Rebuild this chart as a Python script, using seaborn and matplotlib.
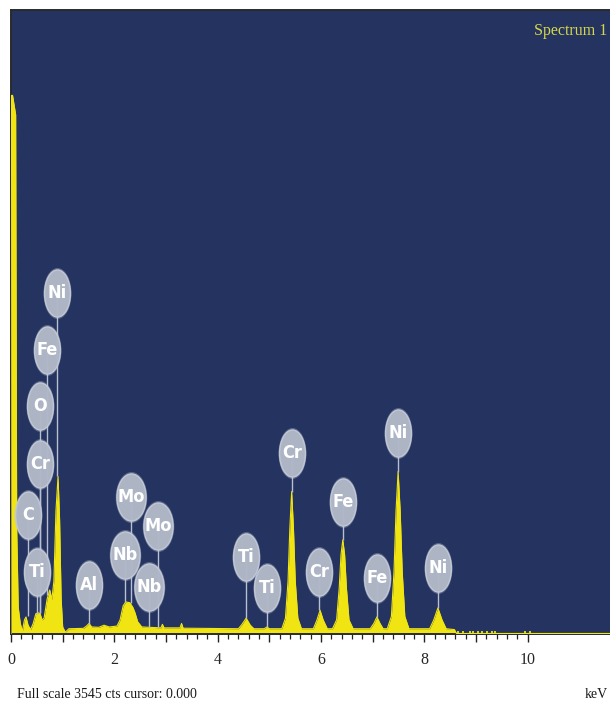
import numpy as np
import matplotlib
matplotlib.use("Agg")
import matplotlib.pyplot as plt
import matplotlib.ticker as ticker
from matplotlib.markers import MarkerStyle
from matplotlib.transforms import Affine2D
import seaborn as sns

# ---------------------------------------------------------------------------
# Data
# ---------------------------------------------------------------------------

FULL_SCALE = 3545  # cts

# outline of the spectrum: energy (keV) / counts
energy = [
    0.00, 0.01, 0.03, 0.09, 0.11, 0.14, 0.18, 0.22, 0.26, 0.29, 0.33, 0.38,
    0.43, 0.48, 0.52, 0.56, 0.60, 0.64, 0.70, 0.75, 0.79, 0.83, 0.87, 0.91,
    0.94, 0.97, 1.00, 1.05, 1.12, 1.40, 1.46, 1.51, 1.56, 1.70, 1.80, 1.90,
    2.05, 2.11, 2.17, 2.22, 2.30, 2.36, 2.40, 2.45, 2.53, 2.90, 2.93, 2.96,
    3.27, 3.30, 3.33, 4.40, 4.47, 4.55, 4.63, 4.70, 4.90, 4.95, 5.00, 5.24,
    5.31, 5.36, 5.395, 5.43, 5.465, 5.50, 5.55, 5.62, 5.85, 5.92, 5.98, 6.04,
    6.12, 6.22, 6.30, 6.35, 6.385, 6.42, 6.455, 6.49, 6.54, 6.62, 6.95, 7.02,
    7.08, 7.14, 7.20, 7.28, 7.36, 7.41, 7.45, 7.49, 7.53, 7.57, 7.62, 7.70,
    8.10, 8.18, 8.26, 8.34, 8.42, 8.58, 8.62, 11.6,
]
counts = [
    0, 3060, 3060, 2950, 600, 150, 60, 15, 80, 97, 50, 25,
    60, 115, 120, 118, 80, 90, 200, 250, 195, 300, 700, 895,
    650, 200, 40, 10, 30, 32, 45, 60, 40, 38, 50, 40,
    45, 80, 160, 182, 178, 150, 120, 70, 40, 35, 55, 35,
    35, 60, 33, 30, 55, 90, 50, 30, 30, 40, 30, 30,
    90, 300, 600, 809, 600, 300, 90, 30, 30, 80, 135, 80,
    30, 30, 80, 260, 450, 535, 450, 260, 80, 30, 30, 60,
    97, 60, 30, 30, 100, 350, 700, 923, 700, 350, 100, 30,
    30, 80, 148, 80, 30, 25, 3, 3,
]

# scattered counts beyond the last peak
dot_energy = [8.65, 8.74, 8.88, 8.94, 9.03, 9.11, 9.21, 9.30, 9.36, 9.94, 10.04]
dot_counts = [12, 12, 12, 12, 12, 12, 12, 12, 12, 12, 12]

# peak labels: element, bubble position (keV, cts), end of the stem (cts)
label_text = ["Ni", "Fe", "O", "Cr", "C", "Ti", "Al", "Mo", "Mo", "Nb", "Nb",
              "Ti", "Ti", "Cr", "Cr", "Fe", "Fe", "Ni", "Ni"]
label_energy = [0.89, 0.70, 0.56, 0.56, 0.33, 0.50, 1.51, 2.32, 2.84, 2.21, 2.67,
                4.55, 4.95, 5.44, 5.96, 6.42, 7.08, 7.49, 8.26]
label_counts = [1938, 1613, 1294, 963, 678, 353, 279, 781, 616, 450, 268,
                439, 262, 1026, 353, 752, 319, 1140, 376]
stem_end = [895, 220, 120, 120, 100, 115, 55, 178, 40, 180, 40,
            90, 40, 809, 135, 535, 97, 923, 148]

# ---------------------------------------------------------------------------
# Style
# ---------------------------------------------------------------------------

BG = "#24335f"
YELLOW = "#f0e412"
BUBBLE = "#b0b8c8"

sns.set_theme(style="white")
plt.rcParams["font.family"] = ["Liberation Serif", "DejaVu Serif"]

fig = plt.figure(figsize=(6.10, 7.06), dpi=100)
ax = fig.add_axes([11 / 610, 72 / 706, 599 / 610, 624 / 706])
ax.set_facecolor(BG)

# spectrum
ax.fill_between(energy, counts, 0, color=YELLOW, lw=0, zorder=2)
sns.lineplot(x=energy, y=counts, ax=ax, color=YELLOW, lw=0.8,
             estimator=None, sort=False, zorder=3)
ax.scatter(dot_energy, dot_counts, marker="s", s=3, color="#c9d046",
           lw=0, zorder=3)

# label stems + bubbles
ax.vlines(label_energy, stem_end, label_counts, color="#b8c0d0", lw=1.0, zorder=4)
for txt, e, c in zip(label_text, label_energy, label_counts):
    sx = 0.62 if txt in ("Mo", "Nb") else 0.55
    m = MarkerStyle("o", transform=Affine2D().scale(sx, 1.0))
    # soft halo, then the bubble itself
    ax.scatter([e], [c], marker=m, s=1350, color="#c4cad8", lw=0,
               alpha=0.35, zorder=5)
    ax.scatter([e], [c], marker=m, s=1150, color=BUBBLE, edgecolor="#c3c9d6",
               lw=1.0, alpha=0.97, zorder=5)
    ax.text(e, c, txt, ha="center", va="center", color="white",
            fontsize=13, fontweight="bold", fontstretch="condensed",
            family=["DejaVu Sans"], zorder=6)

# axes
ax.set_xlim(0, 11.59)
ax.set_ylim(0, FULL_SCALE)
ax.set_xticks(np.arange(0, 10.01, 1))
ax.set_xticks(np.arange(0, 10.01, 0.2), minor=True)
ax.xaxis.set_major_formatter(
    ticker.FuncFormatter(lambda v, p: f"{v:.0f}" if round(v) % 2 == 0 else ""))
ax.set_yticks([])
ax.tick_params(axis="x", which="major", direction="out", length=6, width=1,
               color="#222222", labelsize=11.5, pad=7, bottom=True)
ax.tick_params(axis="x", which="minor", direction="out", length=3.5, width=0.9,
               color="#222222", bottom=True)
for side in ("left", "top", "bottom"):
    ax.spines[side].set_color("#2a2a2a")
    ax.spines[side].set_linewidth(1.4)
ax.spines["right"].set_visible(False)

ax.text(0.995, 0.967, "Spectrum 1", transform=ax.transAxes, ha="right",
        va="center", color="#d6d64c", fontsize=11.5)

fig.text(17 / 610, 1 - 695 / 706, "Full scale 3545 cts cursor: 0.000",
         ha="left", va="center", fontsize=10, color="#1a1a1a")
fig.text(608 / 610, 1 - 695 / 706, "keV", ha="right", va="center",
         fontsize=10, color="#1a1a1a")

fig.savefig("out.png", dpi=100)
